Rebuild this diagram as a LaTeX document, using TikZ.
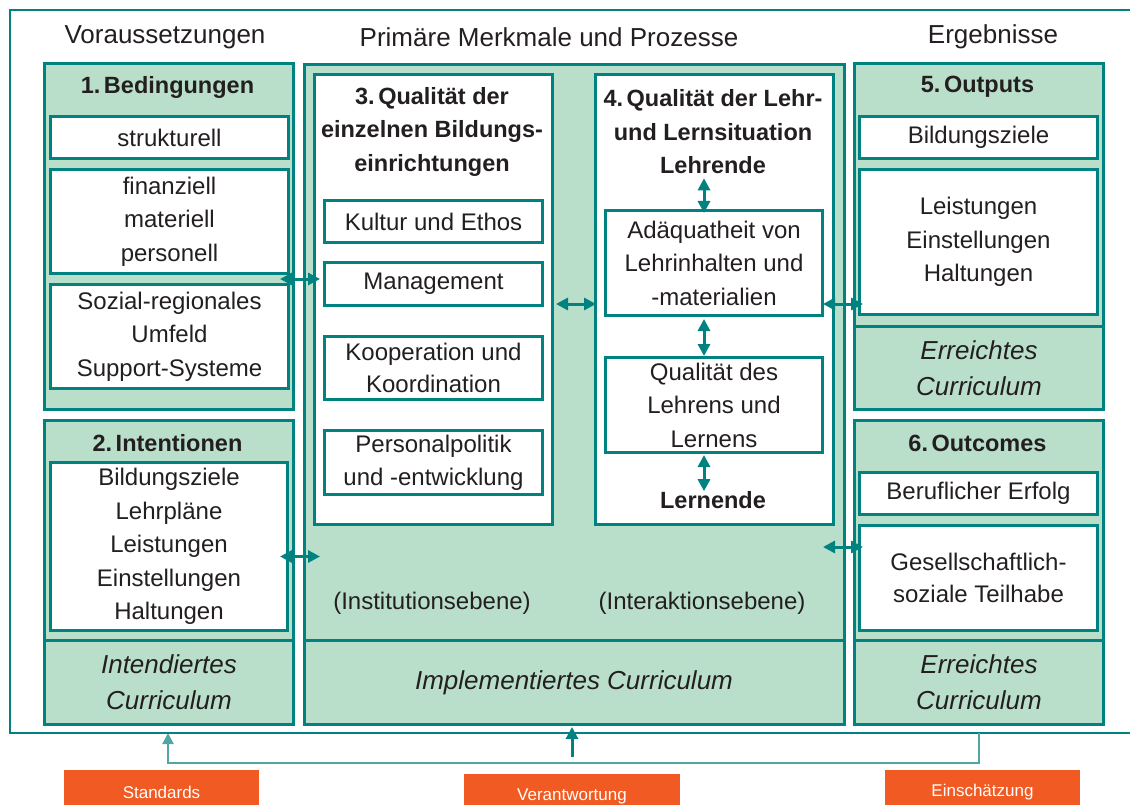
\documentclass[tikz,border=0pt]{standalone}
\usepackage{fontspec}
\setmainfont{Liberation Sans}
\usetikzlibrary{arrows.meta}
\definecolor{tealline}{RGB}{0,130,128}
\definecolor{mint}{RGB}{185,223,202}
\definecolor{tagorange}{RGB}{241,90,34}
\definecolor{paleteal}{RGB}{80,166,163}
\definecolor{ink}{RGB}{35,31,32}
\begin{document}
\begin{tikzpicture}[x=1pt,y=-1pt,
  every node/.style={text=ink,inner sep=0pt,align=center,font=\fontsize{24}{33.5}\selectfont},
  greenbox/.style={draw=tealline,fill=mint,line width=3pt,anchor=north west},
  whitebox/.style={draw=tealline,fill=white,line width=3pt,anchor=north west},
  headtext/.style={font=\fontsize{26}{30}\selectfont},
  titletext/.style={font=\bfseries\fontsize{23.5}{33.5}\selectfont},
  curtext/.style={font=\itshape\fontsize{26}{36}\selectfont},
  tag/.style={fill=tagorange,text=white,font=\fontsize{17}{20}\selectfont},
  link/.style={draw=tealline,line width=3pt,{Triangle[length=12pt,width=12pt]}-{Triangle[length=12pt,width=12pt]}}]
\useasboundingbox (0,0) rectangle (1130,805);

\draw[tealline,line width=2.5pt] (1135,10) -- (10,10) -- (10,733) -- (1135,733);

\node[headtext] (pre) at (165,37) {Voraussetzungen};
\node[headtext] (proc) at (549,37) {Primäre Merkmale und Prozesse};
\node[headtext] (res) at (993,37) {Ergebnisse};

\node[greenbox,minimum width=249pt,minimum height=346pt] (cond) at (43,62) {};
\node[titletext] (condtitle) at (167.5,87) {1.\kern0.15em Bedingungen};
\node[whitebox,minimum width=238pt,minimum height=42pt] (struct) at (49,115) {strukturell};
\node[whitebox,minimum width=238pt,minimum height=104pt] (finanz) at (49,168) {finanziell\\materiell\\personell};
\node[whitebox,minimum width=238pt,minimum height=104pt] (social) at (49,283) {Sozial-regionales\\Umfeld\\Support-Systeme};

\node[greenbox,minimum width=249pt,minimum height=220pt] (intent) at (43,419) {};
\node[titletext] (intenttitle) at (167.5,443) {2.\kern0.15em Intentionen};
\node[whitebox,minimum width=237pt,minimum height=168pt] (goals) at (49,461) {Bildungsziele\\Lehrpläne\\Leistungen\\Einstellungen\\Haltungen};
\node[greenbox,minimum width=249pt,minimum height=84pt,curtext] (intcur) at (43,639) {Intendiertes\\Curriculum};

\node[greenbox,minimum width=540pt,minimum height=576pt] (mid) at (302.5,63) {};
\node[greenbox,minimum width=540pt,minimum height=84pt,curtext] (implcur) at (302.5,639) {Implementiertes Curriculum};
\node[whitebox,minimum width=238pt,minimum height=450pt] (inst) at (313,73) {};
\node[titletext] (insttitle) at (432,131.5) {3.\kern0.15em Qualität der\\einzelnen Bildungs-\\einrichtungen};
\node[whitebox,minimum width=218pt,minimum height=42pt] (kultur) at (323,199) {Kultur und Ethos};
\node[whitebox,minimum width=218pt,minimum height=43pt] (mgmt) at (323,261) {Management};
\node[whitebox,minimum width=218pt,minimum height=63pt,font=\fontsize{24}{32}\selectfont] (koop) at (323,335) {Kooperation und\\Koordination};
\node[whitebox,minimum width=218pt,minimum height=64pt,font=\fontsize{24}{33}\selectfont] (staff) at (323,429) {Personalpolitik\\und -entwicklung};
\node (instlevel) at (432,603) {(Institutionsebene)};

\node[whitebox,minimum width=238pt,minimum height=450pt] (teach) at (594,73) {};
\node[titletext] (teachtitle) at (713,115) {4.\kern0.15em Qualität der Lehr-\\und Lernsituation};
\node[titletext] (lehrende) at (713,165) {Lehrende};
\node[whitebox,minimum width=217pt,minimum height=105pt] (adaq) at (604,209) {Adäquatheit von\\Lehrinhalten und\\-materialien};
\node[whitebox,minimum width=217pt,minimum height=95pt] (quali) at (604,356) {Qualität des\\Lehrens und\\Lernens};
\node[titletext] (lernende) at (713,500) {Lernende};
\node (interlevel) at (702,603) {(Interaktionsebene)};

\node[greenbox,minimum width=249pt,minimum height=263pt] (outputs) at (853,62) {};
\node[titletext] (outtitle) at (977.5,87) {5.\kern0.15em Outputs};
\node[whitebox,minimum width=238pt,minimum height=42pt] (aims) at (858,115) {Bildungsziele};
\node[whitebox,minimum width=238pt,minimum height=145pt] (perf) at (858,168) {Leistungen\\Einstellungen\\Haltungen};
\node[greenbox,minimum width=249pt,minimum height=83pt,curtext] (reachA) at (853,325) {Erreichtes\\Curriculum};

\node[greenbox,minimum width=249pt,minimum height=220pt] (outcomes) at (853,419) {};
\node[titletext] (outctitle) at (977.5,443) {6.\kern0.15em Outcomes};
\node[whitebox,minimum width=238pt,minimum height=42pt] (career) at (858,471) {Beruflicher Erfolg};
\node[whitebox,minimum width=238pt,minimum height=105pt,font=\fontsize{24}{32}\selectfont] (partake) at (858,524) {Gesellschaftlich-\\soziale Teilhabe};
\node[greenbox,minimum width=249pt,minimum height=84pt,curtext] (reachB) at (853,639) {Erreichtes\\Curriculum};

\draw[link] ([xshift=-15pt,yshift=-4pt]cond.east |- finanz.south) -- ([xshift=-3pt,yshift=-4pt]mgmt.west |- finanz.south);
\draw[link] ([xshift=-15pt,yshift=-10pt]cond.east |- goals.center) -- ([xshift=17.5pt,yshift=-10pt]mid.west |- goals.center);
\draw[link] ([xshift=2pt,yshift=3pt]inst.east |- mgmt.south) -- ([xshift=2pt,yshift=3pt]teach.west |- mgmt.south);
\draw[link] ([xshift=-1pt,yshift=13pt]adaq.south east) -- ([xshift=5pt,yshift=13pt]perf.west |- adaq.south);
\draw[link] ([xshift=-12pt,yshift=-31pt]teach.east |- career.south) -- ([xshift=5pt,yshift=-31pt]partake.west |- career.south);
\draw[link] ([xshift=-10pt,yshift=-4.5pt]adaq.north |- lehrende.south) -- ([xshift=-10pt,yshift=-4pt]adaq.north);
\draw[link] ([xshift=-10pt,yshift=-2pt]adaq.south) -- ([xshift=-10pt]quali.north);
\draw[link] ([xshift=-10pt,yshift=-1pt]quali.south) -- ([xshift=-10pt]quali.south |- lernende.north);

\node[tag,minimum width=195pt,minimum height=44pt] (standards) at (161.5,792) {Standards};
\node[tag,minimum width=216pt,minimum height=44pt] (duty) at (572,796) {Verantwortung};
\node[tag,minimum width=195pt,minimum height=44pt] (assess) at (982.5,792) {Einschätzung};

\coordinate (stdin) at (168,733);
\coordinate (dutyin) at (572,727);
\coordinate (assessin) at (979,733);
\coordinate (base) at (572,763);
\draw[paleteal,line width=2pt,-{Triangle[length=11pt,width=11pt]}] (assessin) |- (base) -| (stdin);
\draw[tealline,line width=3pt,-{Triangle[length=12pt,width=12pt]}] ([yshift=6pt]base) -- (dutyin);
\end{tikzpicture}
\end{document}
